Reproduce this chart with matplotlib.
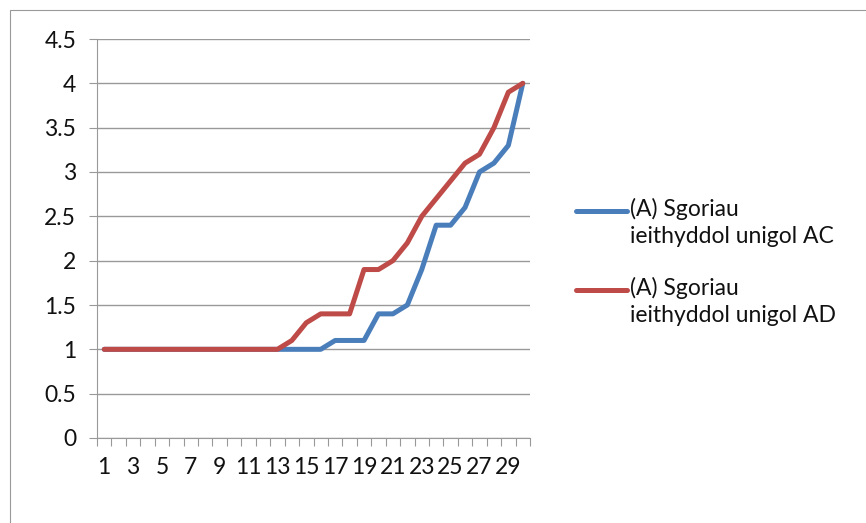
import numpy as np
import matplotlib.pyplot as plt
from matplotlib.lines import Line2D
from matplotlib.patches import Rectangle

# data
points = np.arange(1, 31)
scores_ac = [1.0, 1.0, 1.0, 1.0, 1.0, 1.0, 1.0, 1.0, 1.0, 1.0,
             1.0, 1.0, 1.0, 1.0, 1.0, 1.0, 1.1, 1.1, 1.1, 1.4,
             1.4, 1.5, 1.9, 2.4, 2.4, 2.6, 3.0, 3.1, 3.3, 4.0]
scores_ad = [1.0, 1.0, 1.0, 1.0, 1.0, 1.0, 1.0, 1.0, 1.0, 1.0,
             1.0, 1.0, 1.0, 1.1, 1.3, 1.4, 1.4, 1.4, 1.9, 1.9,
             2.0, 2.2, 2.5, 2.7, 2.9, 3.1, 3.2, 3.5, 3.9, 4.0]
labels = ['(A) Sgoriau\nieithyddol unigol AC', '(A) Sgoriau\nieithyddol unigol AD']
colors = ['#4A7EBB', '#BE4B48']

plt.rcParams['font.family'] = ['Lato', 'DejaVu Sans']
fsize = 16.5
tcol = '#111111'

W, H = 866, 523
fig = plt.figure(figsize=(W / 100, H / 100), dpi=100)
ax = fig.add_axes([97 / W, 1 - 438 / H, (530 - 97) / W, (438 - 39) / H])

# outer chart frame
fig.add_artist(Rectangle((10 / W, -0.1), 1.1, 1 - 10 / H + 0.1, transform=fig.transFigure,
                         fill=False, edgecolor='#9a9a9a', linewidth=0.8))

for vals, col in zip([scores_ac, scores_ad], colors):
    ax.plot(points, vals, color=col, linewidth=3.6, solid_capstyle='round',
            solid_joinstyle='round')

ax.set_xlim(0.5, 30.5)
ax.set_ylim(0, 4.5)
ax.set_yticks(np.arange(0, 4.51, 0.5))
ax.set_yticklabels(['0', '0.5', '1', '1.5', '2', '2.5', '3', '3.5', '4', '4.5'])
ax.yaxis.grid(True, color='#999999', linewidth=1.0)
ax.set_axisbelow(True)

ax.set_xticks(np.arange(0.5, 30.6, 1))
ax.set_xticklabels([])
ax.set_xticks(points[::2], minor=True)
ax.set_xticklabels([str(p) for p in points[::2]], minor=True)
ax.tick_params(axis='x', which='major', length=6, color='#999999', direction='out')
ax.tick_params(axis='x', which='minor', length=0, pad=14, labelsize=fsize, labelcolor=tcol)
ax.tick_params(axis='y', length=6, color='#999999', labelsize=fsize, labelcolor=tcol, pad=9)

for s in ['top', 'right']:
    ax.spines[s].set_visible(False)
for s in ['left', 'bottom']:
    ax.spines[s].set_color('#999999')

# legend drawn by hand so the handle sits on the first line of text
for i, (lab, col) in enumerate(zip(labels, colors)):
    y = 1 - (211 + i * 79) / H
    fig.add_artist(Line2D([576 / W, 627 / W], [y, y], transform=fig.transFigure,
                          color=col, linewidth=3.6, solid_capstyle='round'))
    fig.text(630 / W, y + 13 / H, lab, fontsize=fsize, color=tcol, va='top',
             linespacing=1.35)

fig.savefig('out.png', dpi=100)
